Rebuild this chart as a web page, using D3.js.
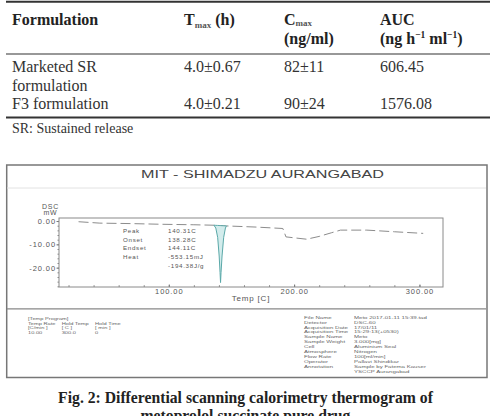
<!DOCTYPE html>
<html>
<head>
<meta charset="utf-8">
<script src="https://cdn.jsdelivr.net/npm/d3@7"></script>
<style>
  body { margin: 0; background: #fff; }
  svg { display: block; }
</style>
</head>
<body>
<div id="chart"></div>
<script>
/**********************/
/******* data         */
/**********************/

// pharmacokinetic table
const formulations = [["Marketed SR", "formulation"], ["F3 formulation"]];
const tmax = ["4.0±0.67", "4.0±0.21"];
const cmax = ["82±11", "90±24"];
const auc = ["606.45", "1576.08"];
const footnote = "SR: Sustained release";

// DSC trace, temperature in C, heat flow in mW
const temp = [28, 45, 70, 95, 120, 136, 146, 170, 191, 193.5, 200, 210, 220, 230, 237, 258, 280, 303];
const dsc  = [-0.3, -0.9, -1.1, -1.4, -1.6, -1.8, -2.1, -2.6, -3.2, -6.8, -7.2, -7.8, -6.6, -5.0, -3.9, -3.9, -4.6, -5.3];

// melting endotherm
const peakTemp = [136, 137.5, 139, 140.2, 140.9, 141.3, 141.7, 142.5, 143.8, 145.2, 146];
const peakDsc  = [-1.8, -3.0, -7.0, -15, -22, -26.4, -22, -15, -7.0, -3.0, -2.1];

const xTicks = [100, 200, 300];
const yTicks = [0, -10, -20];

const peakInfo = [["Peak", "140.31C"], ["Onset", "138.28C"], ["Endset", "144.11C"], ["Heat", "-553.15mJ"], ["", "-194.38J/g"]];
const programRows = [["[Temp Program]"], ["Temp Rate", "Hold Temp", "Hold Time"], ["[C/min ]", "[ C ]", "[ min ]"], ["10.00", "300.0", "0"]];
const runInfo = [
  ["File Name", "Meto 2017-01-11 15:39.tad"], ["Detector", "DSC-60"], ["Acquisition Date", "17/01/11"],
  ["Acquisition Time", "15:29:13(+0530)"], ["Sample Name", "Meto"], ["Sample Weight", "3.000[mg]"],
  ["Cell", "Aluminium Seal"], ["Atmosphere", "Nitrogen"], ["Flow Rate", "100[ml/min]"],
  ["Operator", "Pallavi Shindikar"], ["Annotation", "Sample by Fatema Kauser"], ["", "YSCCP Aurangabad"]
];
const caption = ["Fig. 2: Differential scanning calorimetry thermogram of", "metoprolol succinate pure drug"];

/**********************/
/******* page         */
/**********************/

const W = 493, H = 416;
const serif = "'Liberation Serif', 'Times New Roman', serif";
const sans = "'Liberation Sans', Arial, sans-serif";

const svg = d3.select("#chart")
    .append("svg")
    .attr("width", W)
    .attr("height", H);

/**********************/
/******* table        */
/**********************/

const colX = [12, 184, 284, 380];
const table = svg.append("g").style("font-family", serif);

function rule(y, w) {
    table.append("line")
        .attr("x1", 6).attr("x2", 490)
        .attr("y1", y).attr("y2", y)
        .attr("stroke", "#333")
        .attr("stroke-width", w);
}
rule(1.8, 2);
rule(54, 1.2);
rule(117.5, 2);

const head = table.append("g")
    .style("font-weight", "bold")
    .style("font-size", "16px")
    .attr("fill", "#222");

head.append("text").attr("x", colX[0]).attr("y", 25).text("Formulation");

const tHead = head.append("text").attr("x", colX[1]).attr("y", 25);
tHead.append("tspan").text("T");
tHead.append("tspan").attr("dy", 3).style("font-size", "9px").attr("fill", "#555").text("max");
tHead.append("tspan").attr("dy", -3).text(" (h)");

const cHead = head.append("text").attr("x", colX[2]).attr("y", 25);
cHead.append("tspan").text("C");
cHead.append("tspan").attr("dy", 1).style("font-size", "9px").attr("fill", "#555").text("max");
head.append("text").attr("x", colX[2]).attr("y", 44).text("(ng/ml)");

head.append("text").attr("x", colX[3]).attr("y", 25).text("AUC");
const aHead = head.append("text").attr("x", colX[3]).attr("y", 44);
aHead.append("tspan").text("(ng h");
aHead.append("tspan").attr("dy", -6).style("font-size", "9.5px").text("−1");
aHead.append("tspan").attr("dy", 6).text(" ml");
aHead.append("tspan").attr("dy", -6).style("font-size", "9.5px").text("−1");
aHead.append("tspan").attr("dy", 6).text(")");

const rowY = [72, 109];
const body = table.append("g").style("font-size", "16px").attr("fill", "#333");
formulations.forEach((lines, i) => {
    lines.forEach((s, j) => {
        body.append("text").attr("x", colX[0]).attr("y", rowY[i] + j * 19).text(s);
    });
    body.append("text").attr("x", colX[1]).attr("y", rowY[i]).text(tmax[i]);
    body.append("text").attr("x", colX[2]).attr("y", rowY[i]).text(cmax[i]);
    body.append("text").attr("x", colX[3]).attr("y", rowY[i]).text(auc[i]);
});

table.append("text")
    .attr("x", colX[0]).attr("y", 133)
    .style("font-size", "14px")
    .attr("fill", "#333")
    .text(footnote);

/**********************/
/******* thermogram   */
/**********************/

const fig = svg.append("g").style("font-family", sans).attr("fill", "#555");

// outer frame and separators
fig.append("rect")
    .attr("x", 6.7).attr("y", 165)
    .attr("width", 480.3).attr("height", 212.5)
    .attr("fill", "none")
    .attr("stroke", "#777")
    .attr("stroke-width", 1.5);
fig.append("line").attr("x1", 7).attr("x2", 486).attr("y1", 188).attr("y2", 188)
    .attr("stroke", "#e2e2e2").attr("stroke-width", 1);
fig.append("line").attr("x1", 7).attr("x2", 486).attr("y1", 308.8).attr("y2", 308.8)
    .attr("stroke", "#888").attr("stroke-width", 1.3);

// instrument title, wide face
fig.append("g")
    .attr("transform", "translate(262.5, 177.7) scale(1.37, 1)")
    .append("text")
    .attr("text-anchor", "middle")
    .style("font-size", "11.8px")
    .attr("fill", "#444")
    .text("MIT - SHIMADZU AURANGABAD");

const plot = { left: 59, right: 443, top: 218, bottom: 287 };

const x = d3.scaleLinear()
    .domain([12.4, 318.8])
    .range([plot.left, plot.right]);

const y = d3.scaleLinear()
    .domain([-28.3, 1.3])
    .range([plot.bottom, plot.top]);

// minor ticks
fig.append("g")
    .attr("transform", `translate(0, ${plot.bottom})`)
    .call(d3.axisBottom(x).tickValues(d3.range(20, 320, 20)).tickSize(-1.8).tickFormat(""))
    .call(g => g.select(".domain").remove())
    .call(g => g.selectAll("line").attr("stroke", "#888"));
fig.append("g")
    .attr("transform", `translate(${plot.left}, 0)`)
    .call(d3.axisLeft(y).tickValues(d3.range(-28, 1, 2)).tickSize(1.5).tickFormat(""))
    .call(g => g.select(".domain").remove())
    .call(g => g.selectAll("line").attr("stroke", "#888"));

// major axes
fig.append("g")
    .attr("transform", `translate(0, ${plot.bottom})`)
    .call(d3.axisBottom(x).tickValues(xTicks).tickSize(-2.5).tickPadding(1.8).tickFormat(d => d.toFixed(2)))
    .call(g => g.select(".domain").remove())
    .call(g => g.selectAll("line").attr("stroke", "#777"))
    .call(g => g.selectAll("text")
        .style("font-family", sans).style("font-size", "7.5px")
        .style("letter-spacing", "0.9px").attr("fill", "#555"));

fig.append("g")
    .attr("transform", `translate(${plot.left}, 0)`)
    .call(d3.axisLeft(y).tickValues(yTicks).tickSize(2.5).tickPadding(0.5).tickFormat(d => d.toFixed(2)))
    .call(g => g.select(".domain").remove())
    .call(g => g.selectAll("line").attr("stroke", "#777"))
    .call(g => g.selectAll("text")
        .style("font-family", sans).style("font-size", "7.5px")
        .style("letter-spacing", "0.9px").attr("fill", "#555"));

fig.append("rect")
    .attr("x", plot.left).attr("y", plot.top)
    .attr("width", plot.right - plot.left).attr("height", plot.bottom - plot.top)
    .attr("fill", "none")
    .attr("stroke", "#8a8a8a")
    .attr("stroke-width", 1);

// axis titles
const axisTitle = fig.append("g").style("font-size", "7px").style("letter-spacing", "0.8px");
axisTitle.append("text").attr("x", 50.5).attr("y", 208.5).attr("text-anchor", "middle").text("DSC");
axisTitle.append("text").attr("x", 50.5).attr("y", 214.8).attr("text-anchor", "middle").text("mW");
axisTitle.append("text").attr("x", 251).attr("y", 300.8).attr("text-anchor", "middle")
    .style("font-size", "8px").text("Temp  [C]");

// trace
const trace = temp.map((t, i) => [t, dsc[i]]);
fig.append("path")
    .datum(trace)
    .attr("d", d3.line().x(d => x(d[0])).y(d => y(d[1])))
    .attr("fill", "none")
    .attr("stroke", "#8c8c8c")
    .attr("stroke-width", 1)
    .attr("stroke-dasharray", "10,4");

// endotherm, shaded against its own baseline
const peak = peakTemp.map((t, i) => [t, peakDsc[i]]);
const p0 = peak[0], p1 = peak[peak.length - 1];
const base = t => p0[1] + (p1[1] - p0[1]) * (t - p0[0]) / (p1[0] - p0[0]);
fig.append("path")
    .datum(peak)
    .attr("d", d3.area().x(d => x(d[0])).y0(d => y(base(d[0]))).y1(d => y(d[1])))
    .attr("fill", "#d3ecec")
    .attr("stroke", "#5aa9a9")
    .attr("stroke-width", 1);

// peak annotation
const note = fig.append("g").style("font-size", "6.2px").style("letter-spacing", "0.7px").attr("fill", "#555");
peakInfo.forEach((d, i) => {
    const yy = 232.8 + i * 8.8;
    note.append("text").attr("x", 123).attr("y", yy).text(d[0]);
    note.append("text").attr("x", 168).attr("y", yy).text(d[1]);
});

// temperature program block (tiny, stretched face)
const progScale = 1.5;
const prog = fig.append("g")
    .attr("transform", `translate(28, 0) scale(${progScale}, 1)`)
    .style("font-size", "3.8px")
    .attr("fill", "#666");
const progX = [0, 33.7, 67];
programRows.forEach((row, i) => {
    row.forEach((s, j) => {
        prog.append("text").attr("x", progX[j] / progScale).attr("y", 320.4 + i * 4.4).text(s);
    });
});

// run information block
const infoScale = 1.45;
const info = fig.append("g")
    .attr("transform", `translate(304, 0) scale(${infoScale}, 1)`)
    .style("font-size", "4.2px")
    .attr("fill", "#666");
runInfo.forEach((d, i) => {
    const yy = 318.8 + i * 4.9;
    info.append("text").attr("x", 0).attr("y", yy).text(d[0]);
    info.append("text").attr("x", 50 / infoScale).attr("y", yy).text(d[1]);
});

/**********************/
/******* caption      */
/**********************/

caption.forEach((s, i) => {
    svg.append("text")
        .attr("x", 245.5)
        .attr("y", 403.3 + i * 18)
        .attr("text-anchor", "middle")
        .style("font-family", serif)
        .style("font-weight", "bold")
        .style("font-size", "15.7px")
        .attr("fill", "#222")
        .text(s);
});
</script>
</body>
</html>
